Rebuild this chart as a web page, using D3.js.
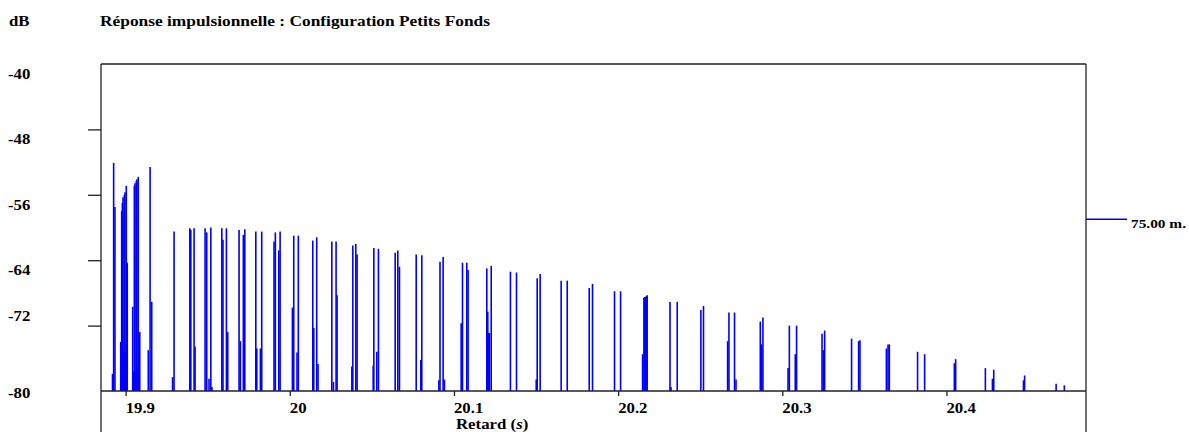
<!DOCTYPE html>
<html>
<head>
<meta charset="utf-8">
<script src="https://cdn.jsdelivr.net/npm/d3@7"></script>
<style>
  html, body { margin: 0; padding: 0; background: #ffffff; }
  svg { display: block; }
  text { font-family: "Liberation Serif", "Times New Roman", serif; font-weight: bold; fill: #000; }
</style>
</head>
<body>
<svg id="chart" width="1189" height="432"></svg>
<script>
// ---- data ----
const titleText = "Réponse impulsionnelle : Configuration Petits Fonds";
const yUnit = "dB";
const xTitle = "Retard";
const xUnit = "s";
const legendLabel = "75.00 m.";
const yTicks = [-40, -48, -56, -64, -72, -80];
const xTicks = [19.9, 20.0, 20.1, 20.2, 20.3, 20.4];
const xTickLabels = ["19.9", "20", "20.1", "20.2", "20.3", "20.4"];

// impulse delays (s)
const delays = [
  19.8920, 19.8927, 19.8935, 19.8970, 19.8976, 19.8980, 19.8984, 19.8988, 19.8992, 19.8996,
  19.9001, 19.9004, 19.9010, 19.9043, 19.9049, 19.9053, 19.9057, 19.9061, 19.9065, 19.9069,
  19.9074, 19.9077, 19.9082, 19.9086, 19.9138, 19.9149, 19.9159, 19.9286, 19.9295, 19.9391,
  19.9397, 19.9417, 19.9423, 19.9484, 19.9494, 19.9508, 19.9519, 19.9526, 19.9586, 19.9593,
  19.9614, 19.9622, 19.9691, 19.9699, 19.9717, 19.9726, 19.9793, 19.9799, 19.9821, 19.9829,
  19.9904, 19.9912, 19.9933, 19.9941, 20.0016, 20.0024, 20.0044, 20.0052, 20.0140, 20.0146,
  20.0164, 20.0172, 20.0256, 20.0266, 20.0282, 20.0288, 20.0378, 20.0384, 20.0402, 20.0410,
  20.0508, 20.0512, 20.0530, 20.0540, 20.0642, 20.0658, 20.0668, 20.0770, 20.0798, 20.0804,
  20.0908, 20.0915, 20.0934, 20.0942, 20.1044, 20.1052, 20.1078, 20.1086, 20.1200, 20.1206,
  20.1211, 20.1216, 20.1227, 20.1344, 20.1381, 20.1501, 20.1507, 20.1525, 20.1653, 20.1690,
  20.1824, 20.1844, 20.1978, 20.2015, 20.2149, 20.2157, 20.2162, 20.2167, 20.2172, 20.2177,
  20.2316, 20.2322, 20.2360, 20.2504, 20.2520, 20.2667, 20.2675, 20.2709, 20.2718, 20.2866,
  20.2874, 20.2882, 20.3035, 20.3043, 20.3079, 20.3087, 20.3242, 20.3250, 20.3258, 20.3422,
  20.3465, 20.3473, 20.3634, 20.3644, 20.3652, 20.3824, 20.3867, 20.4048, 20.4056, 20.4237,
  20.4280, 20.4288, 20.4469, 20.4476, 20.4668, 20.4718
];
// impulse levels (dB)
const levels = [
  -77.9, -52.1, -57.5, -74.0, -58.0, -57.0, -56.3, -75.0, -56.0, -55.7,
  -75.3, -54.9, -64.3, -69.7, -77.6, -54.9, -54.6, -77.6, -54.3, -54.1,
  -77.0, -53.8, -72.8, -72.8, -75.0, -52.6, -69.1, -78.3, -60.5, -60.1,
  -60.3, -60.1, -74.6, -60.1, -60.6, -78.5, -60.0, -79.5, -60.1, -61.5,
  -60.1, -72.8, -60.3, -73.9, -60.9, -60.2, -60.5, -74.8, -74.8, -60.5,
  -61.7, -60.6, -62.8, -60.5, -69.8, -61.0, -75.3, -61.0, -61.6, -72.3,
  -61.2, -76.7, -61.7, -78.9, -61.7, -68.3, -77.0, -62.2, -62.0, -63.3,
  -76.9, -62.5, -75.2, -62.6, -63.1, -62.8, -64.8, -63.3, -76.2, -63.4,
  -78.7, -64.2, -63.6, -78.6, -71.7, -64.3, -64.3, -65.2, -65.0, -70.3,
  -72.9, -72.9, -64.7, -65.4, -65.5, -78.6, -66.2, -65.7, -66.5, -66.5,
  -67.4, -66.9, -67.8, -67.8, -75.5, -68.6, -68.5, -68.5, -68.4, -68.3,
  -69.1, -79.5, -69.1, -70.1, -69.6, -73.9, -70.4, -70.4, -78.6, -71.5,
  -74.3, -71.0, -77.2, -72.0, -75.5, -72.0, -73.0, -75.0, -72.6, -73.6,
  -73.9, -73.8, -74.8, -74.3, -74.3, -75.2, -75.5, -76.6, -76.1, -77.2,
  -78.5, -77.4, -78.7, -78.1, -79.1, -79.3
];

// ---- layout ----
const W = 1189, H = 432;
const plot = { left: 101, right: 1086, top: 64, bottom: 391 };
const yLabelNudge = [10.5, 10, 10, 10, -9, 2];
const blue = "#0000ff";
const axisColor = "#222";
const fontSize = 14;
const stretch = 1.2;

const svg = d3.select("#chart");

const x = d3.scaleLinear().domain([19.885, 20.485]).range([plot.left, plot.right]);
const y = d3.scaleLinear().domain([-80, -40]).range([plot.bottom, plot.top]);

// impulses
const impulses = delays.map((d, i) => ({ t: d, v: levels[i] }));
svg.append("g")
  .selectAll("line")
  .data(impulses)
  .join("line")
  .attr("x1", d => x(d.t)).attr("x2", d => x(d.t))
  .attr("y1", y(-80)).attr("y2", d => y(d.v))
  .attr("stroke", blue)
  .attr("stroke-width", 1.6);

// frame
const frame = svg.append("g").attr("stroke", axisColor).attr("stroke-width", 1.3).attr("fill", "none");
frame.append("line").attr("x1", plot.left).attr("x2", plot.right).attr("y1", plot.top).attr("y2", plot.top);
frame.append("line").attr("x1", plot.left).attr("x2", plot.left).attr("y1", plot.top).attr("y2", H);
frame.append("line").attr("x1", plot.right).attr("x2", plot.right).attr("y1", plot.top).attr("y2", H);

// y axis ticks (outer)
const yAxis = d3.axisLeft(y).tickValues(yTicks.filter(v => v > -80 && v < -40)).tickSize(13).tickFormat("");
const gy = svg.append("g").attr("transform", `translate(${plot.left},0)`).call(yAxis);
gy.select(".domain").remove();
gy.selectAll(".tick line").attr("stroke", axisColor).attr("stroke-width", 1.3);

// x axis
const xAxis = d3.axisBottom(x).tickValues(xTicks).tickSize(5).tickFormat("");
const gx = svg.append("g").attr("transform", `translate(0,${plot.bottom})`).call(xAxis);
gx.select(".domain").attr("d", `M${plot.left},0H${plot.right}`).attr("stroke", axisColor).attr("stroke-width", 1.3);
gx.selectAll(".tick line").attr("stroke", axisColor).attr("stroke-width", 1.3);

// helper: stretched text
function stext(xp, yp, str) {
  return svg.append("text")
    .attr("transform", `translate(${xp},${yp}) scale(${stretch},1)`)
    .attr("font-size", fontSize)
    .text(str);
}

// y tick labels
yTicks.forEach((v, i) => {
  stext(8, y(v) + yLabelNudge[i] + 4.8, String(v));
});

// x tick labels (left-aligned at tick)
xTicks.forEach((v, i) => {
  stext(x(v), 412.5, xTickLabels[i]);
});

// x title
const xt = svg.append("text")
  .attr("transform", `translate(456,429) scale(${stretch},1)`)
  .attr("font-size", fontSize);
xt.append("tspan").text(xTitle + " (");
xt.append("tspan").attr("font-style", "italic").text(xUnit);
xt.append("tspan").text(")");

// titles
stext(9, 25.5, yUnit);
svg.append("text")
  .attr("x", 100).attr("y", 25.5)
  .attr("font-size", fontSize)
  .attr("textLength", 390)
  .attr("lengthAdjust", "spacingAndGlyphs")
  .text(titleText);

// legend
const legY = y(-59);
svg.append("line")
  .attr("x1", plot.right).attr("x2", plot.right + 41)
  .attr("y1", legY).attr("y2", legY)
  .attr("stroke", blue).attr("stroke-width", 1.5);
svg.append("text")
  .attr("x", plot.right + 45).attr("y", legY + 8.5)
  .attr("font-size", 13.5)
  .attr("textLength", 55)
  .attr("lengthAdjust", "spacingAndGlyphs")
  .text(legendLabel);
</script>
</body>
</html>
